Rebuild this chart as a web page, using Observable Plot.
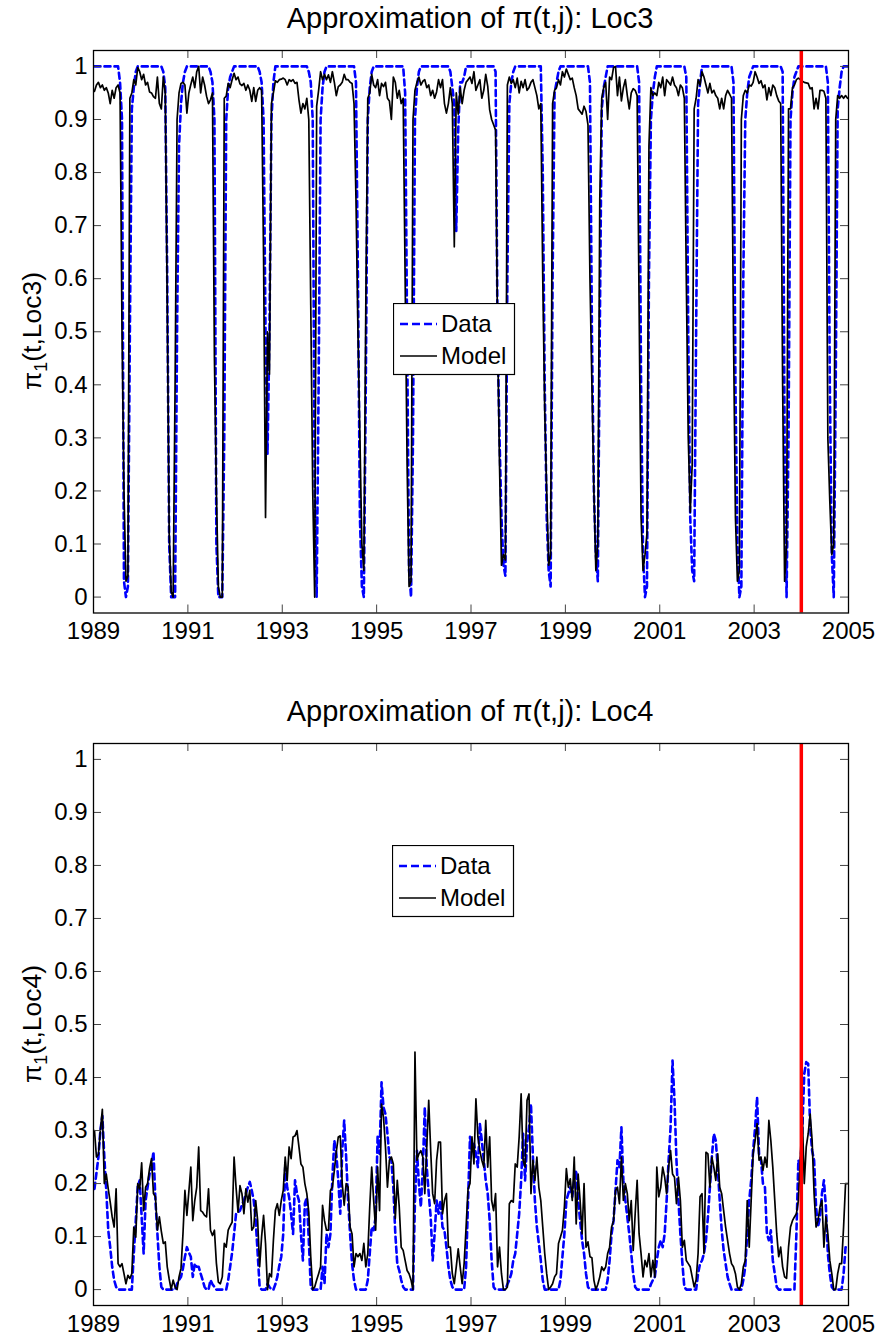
<!DOCTYPE html>
<html>
<head>
<meta charset="utf-8">
<script src="https://cdn.jsdelivr.net/npm/d3@7"></script>
<script src="https://cdn.jsdelivr.net/npm/@observablehq/plot@0.6"></script>
<style>
  html, body { margin: 0; padding: 0; background: #fff; }
  #wrap { position: relative; width: 879px; height: 1340px; overflow: hidden;
          font-family: "Liberation Sans", Arial, Helvetica, sans-serif; color: #000; }
  .panel { position: absolute; left: 0; }
  .title { position: absolute; left: 470px; transform: translate(-50%, -50%);
           font-size: 29px; white-space: nowrap; }
  .ylab { position: absolute; transform: translate(-50%, -50%) rotate(-90deg);
          font-size: 26.5px; white-space: nowrap; }
  .ylab sub { font-size: 18px; vertical-align: -6px; }
  .legend { position: absolute; }
</style>
</head>
<body>
<div id="wrap"></div>
<script>
// ---------------- data (semi-monthly values, Jan 1989 .. Dec 2004; one row per year) ----------------
const startYear = 1989;
const perYear = 24;
const xTicks = [1989, 1991, 1993, 1995, 1997, 1999, 2001, 2003, 2005];
const yTicks = [0, 0.1, 0.2, 0.3, 0.4, 0.5, 0.6, 0.7, 0.8, 0.9, 1];
const seriesNames = ["Data", "Model"];
const markerYear = [2004];
const titles = ["Approximation of \u03C0(t,j): Loc3", "Approximation of \u03C0(t,j): Loc4"];
const locNames = ["Loc3", "Loc4"];

const loc3Data = [
  [1,1,1,1,1,1,1,1,1,1,1,1,1,.97,.9,.03,0,.02,.5,.92,.96,.99,1,1],
  [1,1,1,1,1,1,1,1,1,1,1,.99,.96,.6,.1,0,0,0,.5,.85,.93,.97,.99,1],
  [1,1,1,1,1,1,1,1,1,1,1,.99,.97,.9,.1,0,0,0,.3,.9,.96,.98,.99,1],
  [1,1,1,1,1,1,1,1,1,1,1,1,.99,.97,.9,.5,.27,.5,.9,.97,1,1,1,1],
  [1,1,1,1,1,1,1,1,1,1,1,1,1,.99,.97,.9,.2,0,.4,.9,.96,.99,1,1],
  [1,1,1,1,1,1,1,1,1,1,1,1,1,.97,.6,.15,.02,0,.4,.9,.96,.99,1,1],
  [1,1,1,1,1,1,1,1,1,1,1,1,1,1,.95,.5,.05,0,.3,.9,.96,.99,1,1],
  [1,1,1,1,1,1,1,1,1,1,1,1,1,.99,.96,.93,.69,.88,.97,.97,.98,1,1,1],
  [1,1,1,1,1,1,1,1,1,1,1,1,.99,.5,.3,.15,.06,.04,.6,.93,.97,.99,1,1],
  [1,1,1,1,1,1,1,1,1,1,1,1,.8,.4,.15,.05,.02,.6,.95,.97,.99,1,1,1],
  [1,1,1,1,1,1,1,1,1,1,1,1,.97,.5,.2,.08,.03,.5,.92,.96,.98,1,1,1],
  [1,1,1,1,1,1,1,1,1,1,1,1,1,.97,.4,.08,0,.02,.6,.9,.95,.98,1,1],
  [1,1,1,1,1,1,1,1,1,1,1,1,1,.98,.5,.15,.05,.03,.5,.93,.97,1,1,1],
  [1,1,1,1,1,1,1,1,1,1,1,1,1,.97,.4,.1,0,.02,.6,.9,.95,.98,.99,1],
  [1,1,1,1,1,1,1,1,1,1,1,1,1,1,.99,.3,0,.3,.9,.95,.98,.99,1,1],
  [1,1,1,1,1,1,1,1,1,1,1,1,1,.97,.4,.08,0,.4,.92,.96,.99,1,1,1]
];
const loc3Model = [
  [.953,.965,.97,.96,.965,.955,.96,.95,.93,.955,.94,.96,.965,.95,.5,.2,.03,.04,.94,.95,.975,.965,.998,.99],
  [.975,.985,.965,.97,.952,.95,.943,.94,.98,.93,.92,.98,.95,.55,.12,.01,0,.4,.9,.95,.968,.97,.965,.912],
  [.95,.966,.98,.96,.99,1,.95,.98,.965,.944,.93,.937,.95,.45,.2,.02,0,0,.94,.944,.968,.96,.975,.987],
  [.975,.98,.967,.964,.968,.955,.965,.955,.934,.96,.934,.955,.96,.955,.64,.15,.5,.42,.93,.95,.973,.97,.975,.976],
  [.978,.975,.965,.975,.972,.975,.968,.97,.937,.912,.93,.92,.94,.9,.55,.2,0,.925,.955,.99,.975,.985,.975,.984],
  [.97,.99,.97,.945,.962,.965,.97,.985,.975,.975,.97,.968,.93,.75,.5,.3,.1,.05,.55,.94,.95,.985,.965,.96],
  [.975,.945,.968,.962,.97,.94,.935,.9,.98,.97,.94,.955,.93,.94,.6,.25,.02,.03,.9,.955,.97,.98,.965,.972],
  [.975,.96,.965,.945,.955,.94,.952,.975,.96,.975,.93,.912,.93,.96,.93,.66,.95,.91,.96,.93,.955,.97,.975,.98],
  [.968,.99,.955,.965,.975,.94,.955,.985,.963,.918,.9,.89,.88,.5,.25,.06,.08,.07,.965,.98,.968,.975,.96,.978],
  [.95,.972,.96,.975,.955,.96,.97,.975,.96,.945,.92,.93,.6,.35,.2,.06,.08,.93,.955,.96,.975,.965,.99,.98],
  [.995,.985,.975,.978,.96,.945,.92,.915,.91,.925,.915,.89,.6,.4,.2,.05,.1,.75,.94,.96,.97,.9,.98,.975],
  [.998,1,.945,.98,.935,.96,.975,.945,.92,.95,.958,.955,.945,.55,.15,.05,.08,.12,.85,.96,.945,.95,.945,.97],
  [.96,.98,.945,.975,.97,.965,.98,.965,.96,.945,.965,.96,.94,.6,.3,.16,.25,.92,.94,.975,.965,.99,.98,.965],
  [.95,.968,.95,.955,.945,.94,.92,.94,.92,.945,.955,.948,.94,.5,.15,.03,.05,.9,.945,.955,.95,.965,.963,.97],
  [.99,.98,.968,.973,.96,.965,.937,.96,.945,.965,.96,.945,.935,.93,.4,.03,.1,.92,.92,.96,.965,.975,.978,.975],
  [.972,.97,.969,.968,.958,.96,.92,.94,.92,.955,.955,.953,.94,.3,.18,.08,.1,.9,.945,.94,.945,.94,.945,.94]
];
const loc4Data = [
  [.19,.22,.25,.30,.328,.25,.187,.112,.08,.043,.018,.005,0,0,0,0,0,0,0,0,.068,.13,.194,.206],
  [.137,.068,.168,.193,.218,.231,.26,.168,.106,.043,.005,0,0,0,0,0,0,0,.011,.018,.024,.04,.062,.08],
  [.07,.062,.024,.049,.043,.043,.03,.018,.005,0,0,.018,.01,.005,0,0,0,0,0,0,.018,.043,.07,.105],
  [.143,.145,.149,.16,.168,.181,.193,.203,.187,.168,.13,.068,.005,0,0,0,.011,.005,0,0,.01,.024,.045,.062],
  [.105,.231,.193,.174,.143,.105,.206,.181,.168,.105,.055,.162,.174,.093,.005,0,0,0,0,0,.043,.011,.105,.08],
  [.105,.212,.281,.256,.206,.143,.262,.319,.25,.168,.105,.049,.018,0,0,0,0,0,0,.018,.068,.118,.112,.137],
  [.288,.256,.391,.344,.331,.294,.25,.244,.193,.105,.049,.036,.018,.005,0,0,0,0,0,.168,.262,.2,.156,.231],
  [.344,.231,.181,.137,.055,.105,.168,.143,.168,.118,.112,.08,.043,.018,.005,0,0,0,0,0,0,.043,.168,.288],
  [.262,.275,.256,.231,.313,.281,.244,.206,.181,.13,.055,.005,0,0,0,0,0,0,.01,.018,.03,.055,.068,.105],
  [.143,.206,.294,.206,.275,.306,.35,.25,.168,.118,.087,.055,.018,0,0,0,0,0,0,0,0,.018,.062,.105],
  [.168,.181,.193,.175,.206,.225,.168,.13,.093,.068,.03,.005,0,0,0,0,0,0,0,0,0,.018,.055,.105],
  [.13,.187,.244,.231,.306,.206,.168,.137,.105,.068,.03,.005,0,0,0,0,0,0,0,.01,.018,.024,.055,.08],
  [.093,.08,.105,.168,.244,.306,.432,.357,.244,.168,.105,.05,.005,0,0,0,0,0,0,.03,.049,.055,.068,.093],
  [.137,.193,.25,.294,.281,.23,.168,.112,.074,.049,.024,.011,0,0,0,0,0,0,.018,.043,.105,.168,.206,.262],
  [.306,.363,.256,.244,.2,.193,.105,.093,.112,.055,.03,.005,0,0,0,0,0,0,0,0,0,.105,.244,.231],
  [.3,.407,.429,.426,.306,.262,.244,.156,.118,.137,.181,.206,.156,.068,.03,.005,0,0,0,0,0,.03,.08,.08]
];
const loc4Model = [
  [.30,.25,.255,.30,.34,.20,.218,.19,.165,.137,.118,.19,.049,.043,.049,.03,.011,.027,.021,.03,.118,.099,.20,.19],
  [.239,.149,.193,.20,.228,.247,.181,.175,.112,.137,.11,.087,.09,.043,.02,0,.018,.005,0,.024,.04,.105,.187,.14],
  [.185,.231,.13,.168,.193,.269,.149,.146,.14,.137,.19,.112,.102,.112,.05,.014,.011,.024,.087,.08,.112,.12,.127,.25],
  [.193,.146,.196,.181,.143,.19,.165,.187,.112,.118,.168,.13,.043,.1,.14,.087,0,.03,.024,.093,.149,.162,.14,.168],
  [.187,.25,.206,.269,.247,.288,.29,.30,.269,.237,.231,.20,.181,.146,.062,0,.005,.018,.03,.043,.159,.13,.112,.112],
  [.187,.193,.225,.26,.288,.29,.20,.159,.20,.193,.118,.105,.043,.068,.062,.068,.055,.087,.043,.068,.156,.231,.168,.112],
  [.231,.149,.35,.325,.269,.193,.244,.25,.237,.134,.206,.156,.08,.074,.055,.036,.03,.018,0,.448,.244,.256,.262,.25],
  [.181,.269,.357,.262,.181,.162,.244,.278,.278,.143,.168,.181,.08,.08,.03,.011,.043,.077,.043,.011,.049,.118,.19,.20],
  [.288,.237,.36,.288,.262,.244,.231,.319,.231,.288,.168,.149,.181,.043,.08,.03,0,0,.005,.162,.168,.165,.237,.231],
  [.288,.369,.244,.231,.357,.369,.181,.244,.206,.25,.193,.168,.118,.068,.03,0,.005,.011,.024,.03,.087,.099,.112,.156],
  [.228,.193,.209,.168,.25,.124,.218,.168,.105,.20,.08,.09,.062,.06,.018,0,.01,.024,.043,.036,.043,.068,.08,.118],
  [.13,.187,.193,.162,.25,.168,.20,.181,.13,.168,.074,.143,.206,.105,.068,.024,.055,.043,.068,.024,.055,.024,.231,.175],
  [.193,.231,.212,.181,.231,.262,.218,.212,.162,.212,.168,.08,.093,.055,.049,.043,.024,.005,.018,.068,.175,.181,.068,.259],
  [.256,.193,.25,.231,.206,.256,.193,.181,.149,.118,.093,.068,.049,.043,.03,.005,0,.011,.043,.055,.168,.08,.168,.256],
  [.281,.313,.244,.25,.225,.25,.231,.319,.281,.231,.168,.105,.062,.08,.043,.024,.021,.08,.118,.13,.137,.143,.168,.25],
  [.33,.20,.269,.294,.331,.281,.181,.118,.13,.156,.168,.08,.137,.105,.055,.03,0,0,.03,.049,.049,.118,.20,.20]
];

// ---------------- layout ----------------
const W = 879, PH = 670;
const ML = 93, MR = 31;
const panels = [
  {top: 0,   mt: 50, mb: 57.5, data: loc3Data, model: loc3Model, title: titles[0], loc: locNames[0], titleY: 18,  legend: {x: 393, y: 303}},
  {top: 670, mt: 73, mb: 35,   data: loc4Data, model: loc4Model, title: titles[1], loc: locNames[1], titleY: 711, legend: {x: 392, y: 845}}
];
const FONT = '"Liberation Sans", Arial, Helvetica, sans-serif';
const wrap = document.getElementById("wrap");

panels.forEach(p => {
  const d = p.data.flat(), m = p.model.flat();
  const pts = d.map((v, i) => ({t: startYear + (i + 0.5) / perYear, data: v, model: m[i]}));
  const pw = W - ML - MR, ph = PH - p.mt - p.mb;
  const chart = Plot.plot({
    width: W, height: PH,
    marginLeft: ML, marginRight: MR, marginTop: p.mt, marginBottom: p.mb,
    x: {domain: [1989, 2005], label: null},
    y: {domain: [-0.03, 1.03], label: null},
    style: {fontFamily: FONT, fontSize: "24px", background: "white", color: "black", overflow: "visible"},
    marks: [
      Plot.line(pts, {x: "t", y: "data", stroke: "#0000ff", strokeWidth: 2.6, strokeDasharray: "6,4", clip: true}),
      Plot.line(pts, {x: "t", y: "model", stroke: "#000", strokeWidth: 1.7, clip: true}),
      Plot.ruleX(markerYear, {x: d => d, stroke: "#ff0000", strokeWidth: 3.5}),
      Plot.tickY(yTicks, {y: d => d, insetRight: pw - 8, stroke: "#444", strokeWidth: 1}),
      Plot.tickY(yTicks, {y: d => d, insetLeft: pw - 8, stroke: "#444", strokeWidth: 1}),
      Plot.tickX(xTicks, {x: d => d, insetTop: ph - 8, stroke: "#444", strokeWidth: 1}),
      Plot.tickX(xTicks, {x: d => d, insetBottom: ph - 8, stroke: "#444", strokeWidth: 1}),
      Plot.frame({stroke: "#000", strokeWidth: 1.3}),
      Plot.axisY(yTicks, {anchor: "left", tickSize: 0, tickPadding: 6, tickFormat: d => String(d), fontSize: 24, label: null}),
      Plot.axisX(xTicks, {anchor: "bottom", tickSize: 0, tickPadding: 9, tickFormat: d => String(d), fontSize: 24, label: null})
    ]
  });
  chart.classList.add("panel");
  chart.style.top = p.top + "px";
  wrap.appendChild(chart);

  const t = document.createElement("div");
  t.className = "title";
  t.style.top = p.titleY + "px";
  t.textContent = p.title;
  wrap.appendChild(t);

  const yl = document.createElement("div");
  yl.className = "ylab";
  yl.style.left = "34px";
  yl.style.top = (p.top + p.mt + ph / 2) + "px";
  yl.innerHTML = "\u03C0<sub>1</sub>(t," + p.loc + ")";
  wrap.appendChild(yl);

  // legend box
  const lg = d3.create("svg").attr("class", "legend")
    .attr("width", 123).attr("height", 73)
    .style("left", p.legend.x + "px").style("top", p.legend.y + "px");
  lg.append("rect").attr("x", 0.5).attr("y", 0.5).attr("width", 121).attr("height", 71)
    .attr("fill", "#fff").attr("stroke", "#000").attr("stroke-width", 1.2);
  const rowsY = [21, 53];
  seriesNames.forEach((name, i) => {
    lg.append("line").attr("x1", 7).attr("x2", 44).attr("y1", rowsY[i]).attr("y2", rowsY[i])
      .attr("stroke", i === 0 ? "#0000ff" : "#000")
      .attr("stroke-width", i === 0 ? 2.6 : 1.6)
      .attr("stroke-dasharray", i === 0 ? "8,4" : null);
    lg.append("text").attr("x", 48).attr("y", rowsY[i]).attr("dy", "0.35em")
      .attr("font-family", FONT).attr("font-size", 24).text(name);
  });
  wrap.appendChild(lg.node());
});
</script>
</body>
</html>
